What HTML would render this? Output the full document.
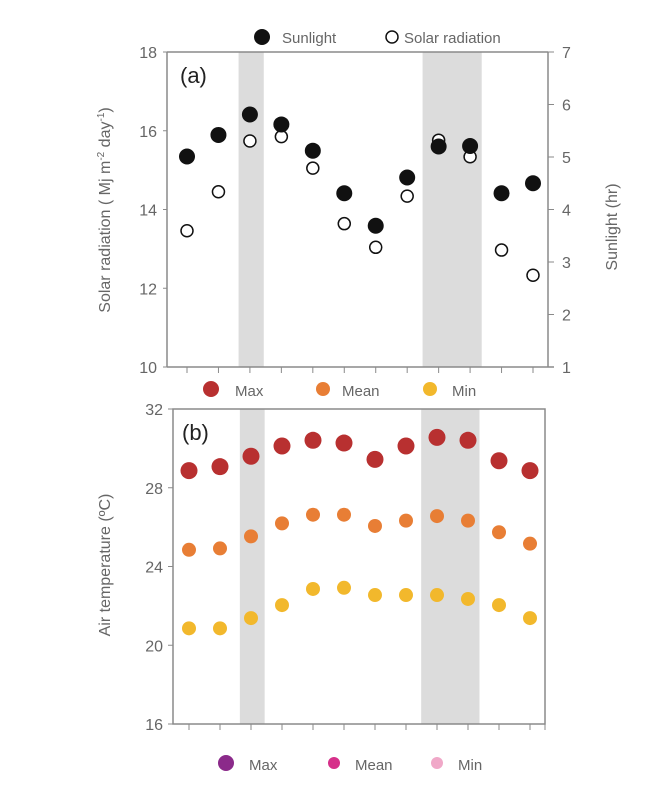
<!DOCTYPE html>
<html><head><meta charset="utf-8"><style>
body{margin:0;background:#fff;}
svg{display:block;font-family:"Liberation Sans",sans-serif;}
</style></head><body>
<svg id="c" width="650" height="785" viewBox="0 0 650 785" xmlns="http://www.w3.org/2000/svg"></svg>
<script>
const months = ["1","2","3","4","5","6","7","8","9","10","11","12"];
const sunlight = [5.01,5.42,5.81,5.62,5.12,4.31,3.69,4.61,5.20,5.21,4.31,4.50];
const solarRad = [13.46,14.45,15.74,15.85,15.05,13.64,13.04,14.34,15.76,15.34,12.97,12.33];
const tMax = [28.87,29.07,29.60,30.12,30.41,30.27,29.44,30.12,30.56,30.41,29.37,28.87];
const tMean = [24.85,24.92,25.53,26.19,26.63,26.63,26.06,26.33,26.56,26.33,25.74,25.16];
const tMin = [20.86,20.86,21.38,22.04,22.86,22.92,22.55,22.55,22.55,22.35,22.04,21.38];
const shadeBands = [[1.64,2.44],[7.49,9.37]];
const leftTicksA = [10,12,14,16,18];
const rightTicksA = [1,2,3,4,5,6,7];
const ticksB = [16,20,24,28,32];

const NS="http://www.w3.org/2000/svg", svg=document.getElementById('c');
function mk(tag,attrs,parent){const e=document.createElementNS(NS,tag);for(const k in attrs)e.setAttribute(k,attrs[k]);(parent||svg).appendChild(e);return e;}
function txt(s,attrs,parent){const e=mk('text',attrs,parent);e.textContent=s;return e;}
const G='#8a8a8a', TC='#666';

// Panel A
const A={x0:167,x1:548,y0:52,y1:367};
const xa=i=>187+i*(533-187)/11;
const yL=v=>A.y1-(v-10)/8*(A.y1-A.y0);
const yR=v=>A.y1-(v-1)/6*(A.y1-A.y0);
const ga=mk('g',{});


shadeBands.forEach(b=>{const r=mk('rect',{x:xa(b[0]),y:A.y0,width:xa(b[1])-xa(b[0]),height:A.y1-A.y0,fill:'#dcdcdc'},ga);

});
mk('line',{x1:A.x0,y1:A.y0,x2:A.x1,y2:A.y0,stroke:G,'stroke-width':1.5},ga);
mk('line',{x1:A.x0,y1:A.y0,x2:A.x0,y2:A.y1,stroke:G,'stroke-width':1.5},ga);
mk('line',{x1:A.x1,y1:A.y0,x2:A.x1,y2:A.y1,stroke:G,'stroke-width':1.5},ga);
mk('line',{x1:A.x0,y1:A.y1,x2:A.x1+6,y2:A.y1,stroke:G,'stroke-width':1.5},ga);
leftTicksA.forEach(v=>{mk('line',{x1:A.x0-4,y1:yL(v),x2:A.x0,y2:yL(v),stroke:G},ga);
const t=txt(String(v),{x:A.x0-10,y:yL(v)+6,'text-anchor':'end','font-size':16,fill:TC},ga);

});
rightTicksA.forEach(v=>{mk('line',{x1:A.x1,y1:yR(v),x2:A.x1+6,y2:yR(v),stroke:G},ga);
const t=txt(String(v),{x:A.x1+14,y:yR(v)+6,'font-size':16,fill:TC},ga);

});
months.forEach((m,i)=>mk('line',{x1:xa(i),y1:A.y1,x2:xa(i),y2:A.y1+6,stroke:G},ga));
solarRad.forEach((v,i)=>{const c=mk('circle',{cx:xa(i),cy:yL(v),r:6,fill:'#fff',stroke:'#111','stroke-width':1.5},ga);

});
sunlight.forEach((v,i)=>{const c=mk('circle',{cx:xa(i),cy:yR(v),r:8,fill:'#111'},ga);

});
txt('(a)',{x:180,y:83,'font-size':22,fill:'#222'},ga);
const ylA=txt('Solar radiation ( Mj m',{transform:'translate(110,210) rotate(-90)','text-anchor':'middle','font-size':16,fill:TC},ga);


const s1=mk('tspan',{'font-size':10,dy:-6},ylA);s1.textContent='-2';
const s2=mk('tspan',{'font-size':16,dy:6},ylA);s2.textContent=' day';
const s3=mk('tspan',{'font-size':10,dy:-6},ylA);s3.textContent='-1';
const s4=mk('tspan',{'font-size':16,dy:6},ylA);s4.textContent=')';
const yrA=txt('Sunlight (hr)',{transform:'translate(617,227) rotate(-90)','text-anchor':'middle','font-size':16,fill:TC},ga);


// legend a
const lg=mk('g',{});


mk('circle',{cx:262,cy:37,r:8,fill:'#111'},lg);
txt('Sunlight',{x:282,y:43,'font-size':15,fill:TC},lg);
mk('circle',{cx:392,cy:37,r:6,fill:'#fff',stroke:'#111','stroke-width':1.5},lg);
txt('Solar radiation',{x:404,y:43,'font-size':15,fill:TC},lg);

// Panel B
const B={x0:173,x1:545,y0:409,y1:724};
const xb=i=>189+i*(530-189)/11;
const yB=v=>B.y1-(v-16)/16*(B.y1-B.y0);
const gb=mk('g',{});


shadeBands.forEach(b=>{const r=mk('rect',{x:xb(b[0]),y:B.y0,width:xb(b[1])-xb(b[0]),height:B.y1-B.y0,fill:'#dcdcdc'},gb);

});
mk('rect',{x:B.x0,y:B.y0,width:B.x1-B.x0,height:B.y1-B.y0,fill:'none',stroke:G,'stroke-width':1.5},gb);
ticksB.forEach(v=>{mk('line',{x1:B.x0-5,y1:yB(v),x2:B.x0,y2:yB(v),stroke:G},gb);
const t=txt(String(v),{x:B.x0-10,y:yB(v)+6,'text-anchor':'end','font-size':16,fill:TC},gb);

});
months.forEach((m,i)=>mk('line',{x1:xb(i),y1:B.y1,x2:xb(i),y2:B.y1+6,stroke:G},gb));
mk('line',{x1:B.x1,y1:B.y1,x2:B.x1,y2:B.y1+6,stroke:G},gb);
[[tMax,'#b83030',8.5,'max-temp-point'],[tMean,'#e87e35',7,'mean-temp-point'],[tMin,'#f2b82c',7,'min-temp-point']].forEach(s=>{
s[0].forEach((v,i)=>{const c=mk('circle',{cx:xb(i),cy:yB(v),r:s[2],fill:s[1]},gb);

});});
txt('(b)',{x:182,y:440,'font-size':22,fill:'#222'},gb);
const ylB=txt('Air temperature  (ºC)',{transform:'translate(110,565) rotate(-90)','text-anchor':'middle','font-size':16,fill:TC},gb);


// legend b
const lb=mk('g',{});


mk('circle',{cx:211,cy:389,r:8,fill:'#b83030'},lb);txt('Max',{x:235,y:396,'font-size':15,fill:TC},lb);
mk('circle',{cx:323,cy:389,r:7,fill:'#e87e35'},lb);txt('Mean',{x:342,y:396,'font-size':15,fill:TC},lb);
mk('circle',{cx:430,cy:389,r:7,fill:'#f2b82c'},lb);txt('Min',{x:452,y:396,'font-size':15,fill:TC},lb);
// bottom legend
const lc=mk('g',{});


mk('circle',{cx:226,cy:763,r:8,fill:'#8b2a8a'},lc);txt('Max',{x:249,y:770,'font-size':15,fill:TC},lc);
mk('circle',{cx:334,cy:763,r:6,fill:'#d6308a'},lc);txt('Mean',{x:355,y:770,'font-size':15,fill:TC},lc);
mk('circle',{cx:437,cy:763,r:6,fill:'#f0a8c8'},lc);txt('Min',{x:458,y:770,'font-size':15,fill:TC},lc);
</script>
</body></html>
